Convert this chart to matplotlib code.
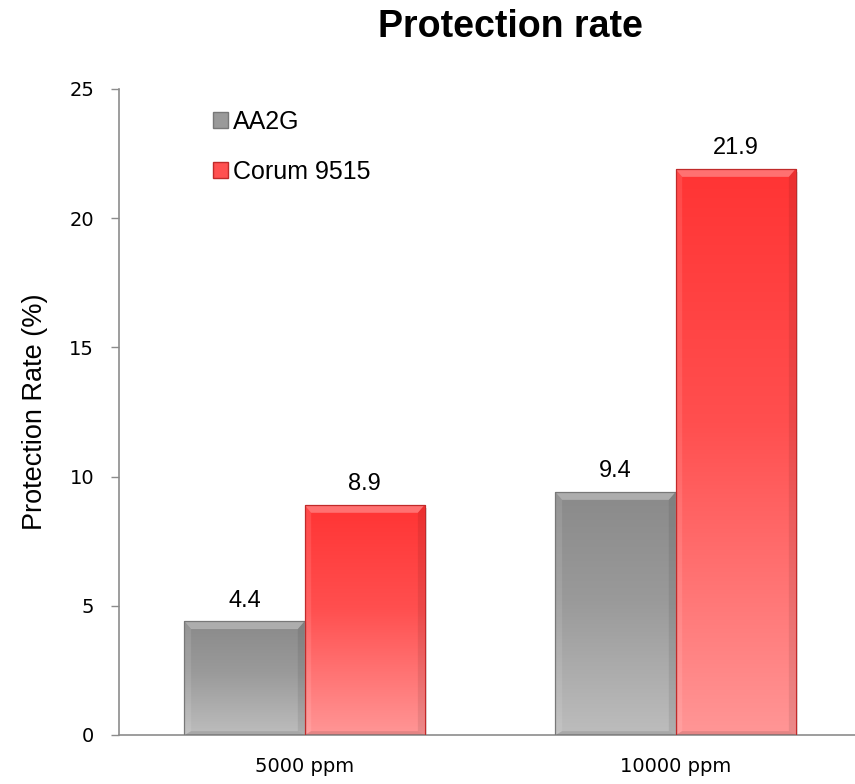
import numpy as np
import matplotlib
matplotlib.use("Agg")
import matplotlib.pyplot as plt
from matplotlib.colors import LinearSegmentedColormap
from matplotlib.patches import Rectangle, Polygon

categories = ["5000 ppm", "10000 ppm"]
series_names = ["AA2G", "Corum 9515"]
aa2g = [4.4, 9.4]
corum = [8.9, 21.9]
yticks = [0, 5, 10, 15, 20, 25]

# top -> bottom shading for each series
gray_map = LinearSegmentedColormap.from_list(
    "g", [(0, "#8a8a8a"), (0.45, "#9a9a9a"), (1, "#bdbdbd")])
red_map = LinearSegmentedColormap.from_list(
    "r", [(0, "#ff3434"), (0.45, "#ff4f4f"), (1, "#ff9696")])

W, H = 855, 784
fig = plt.figure(figsize=(W / 100, H / 100), dpi=100)
left, right, bottom, top = 119, 861, 735, 89
ax = fig.add_axes([left / W, 1 - bottom / H, (right - left) / W, (bottom - top) / H])

width = 0.3235
x = np.arange(len(categories))
ymax = 25


def gradient_bar(ax, x0, h, cmap, edge):
    x1 = x0 + width
    g = np.linspace(0, 1, 256).reshape(-1, 1)
    ax.imshow(g, cmap=cmap, vmin=0, vmax=1, aspect="auto",
              extent=(x0, x1, 0, h), origin="upper", zorder=2,
              interpolation="bilinear")
    # drop shadow
    ax.add_patch(Rectangle((x0 + 0.006, -0.12), width, h, facecolor="#000000",
                           alpha=0.12, lw=0, zorder=1.5))
    # bevel highlights
    bx = 0.018
    by = 0.3
    ax.add_patch(Polygon([(x0, h), (x1, h), (x1 - bx, h - by), (x0 + bx, h - by)],
                         closed=True, facecolor="white", alpha=0.30, lw=0, zorder=3))
    ax.add_patch(Polygon([(x0, h), (x0 + bx, h - by), (x0 + bx, by * 0.5), (x0, 0)],
                         closed=True, facecolor="white", alpha=0.10, lw=0, zorder=3))
    ax.add_patch(Polygon([(x1, h), (x1 - bx, h - by), (x1 - bx, by * 0.5), (x1, 0)],
                         closed=True, facecolor="black", alpha=0.08, lw=0, zorder=3))
    ax.add_patch(Polygon([(x0, 0), (x1, 0), (x1 - bx, by * 0.5), (x0 + bx, by * 0.5)],
                         closed=True, facecolor="black", alpha=0.10, lw=0, zorder=3))
    ax.add_patch(Rectangle((x0, 0), width, h, facecolor="none", edgecolor=edge,
                           lw=0.9, zorder=4))


def value_label(ax, xc, v):
    ax.annotate(f"{v:.1f}", (xc, v), xytext=(0, 7), textcoords="offset points",
                ha="center", va="bottom", fontsize=17, family="Liberation Sans")


for i in range(len(categories)):
    gradient_bar(ax, x[i] - width, aa2g[i], gray_map, "#787878")
    gradient_bar(ax, x[i], corum[i], red_map, "#c02a2a")
    value_label(ax, x[i] - width / 2, aa2g[i])
    value_label(ax, x[i] + width / 2, corum[i])

ax.set_xlim(-0.5, 1.5)
ax.set_ylim(0, ymax)
ax.set_yticks(yticks)
ax.set_yticklabels([str(t) for t in yticks], fontsize=14, family="DejaVu Sans")
ax.set_xticks(x)
ax.set_xticklabels(categories, fontsize=14, family="DejaVu Sans")
ax.tick_params(axis="x", length=0, pad=16)
ax.tick_params(axis="y", length=6, width=1, color="#8c8c8c", pad=12)
for s in ["top", "right"]:
    ax.spines[s].set_visible(False)
for s in ["left", "bottom"]:
    ax.spines[s].set_color("#8c8c8c")
    ax.spines[s].set_linewidth(1.2)
ax.set_ylabel("Protection Rate (%)", fontsize=19.5, family="Liberation Sans")
ax.yaxis.set_label_coords(-0.0957, 0.5)

fig.text(510 / W, 1 - 37 / H, "Protection rate", ha="center", va="baseline",
         fontsize=27, fontweight="bold", family="Liberation Sans")

handles = [Rectangle((0, 0), 1, 1, facecolor="#9a9a9a", edgecolor="#787878"),
           Rectangle((0, 0), 1, 1, facecolor="#ff5050", edgecolor="#c02a2a")]
leg = ax.legend(handles, series_names, loc="upper left", bbox_to_anchor=(0.096, 1.002),
                frameon=False, prop={"family": "Liberation Sans", "size": 18},
                handlelength=0.6, handleheight=0.6, handletextpad=0.2, labelspacing=1.02)

fig.savefig("out.png", dpi=100)
